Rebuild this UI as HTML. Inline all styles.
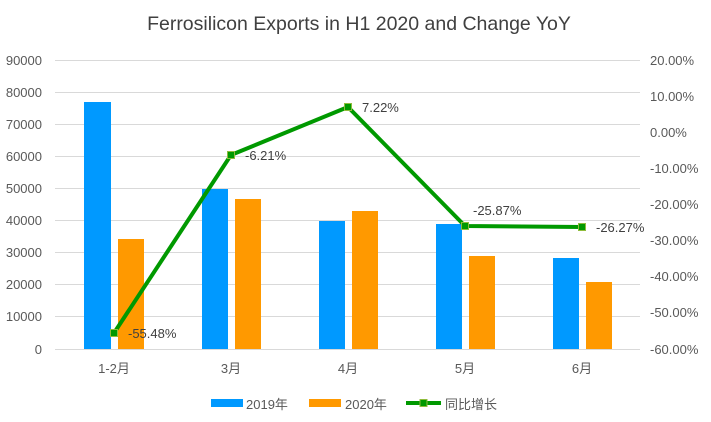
<!DOCTYPE html>
<html><head><meta charset="utf-8"><style>body{margin:0;background:#fff}svg{display:block}text{font-family:"Liberation Sans","Noto Sans CJK SC",sans-serif;fill:#595959}</style></head><body>
<svg width="711" height="422" viewBox="0 0 711 422">
<text x="359" y="30" text-anchor="middle" font-size="19.5" style="fill:#404040">Ferrosilicon Exports in H1 2020 and Change YoY</text>
<g stroke="#d9d9d9" stroke-width="1">
<line x1="55" x2="640" y1="60.5" y2="60.5"/><line x1="55" x2="640" y1="92.5" y2="92.5"/><line x1="55" x2="640" y1="124.5" y2="124.5"/><line x1="55" x2="640" y1="156.5" y2="156.5"/><line x1="55" x2="640" y1="188.5" y2="188.5"/><line x1="55" x2="640" y1="220.5" y2="220.5"/><line x1="55" x2="640" y1="252.5" y2="252.5"/><line x1="55" x2="640" y1="284.5" y2="284.5"/><line x1="55" x2="640" y1="316.5" y2="316.5"/><line x1="55" x2="640" y1="349.5" y2="349.5"/>
</g>
<g font-size="13" text-anchor="end">
<text x="42" y="65">90000</text><text x="42" y="97">80000</text><text x="42" y="129">70000</text><text x="42" y="161">60000</text><text x="42" y="193">50000</text><text x="42" y="225">40000</text><text x="42" y="257">30000</text><text x="42" y="289">20000</text><text x="42" y="321">10000</text><text x="42" y="354">0</text>
</g>
<g font-size="13">
<text x="650" y="65">20.00%</text><text x="650" y="101">10.00%</text><text x="650" y="137">0.00%</text><text x="650" y="173">-10.00%</text><text x="650" y="209">-20.00%</text><text x="650" y="245">-30.00%</text><text x="650" y="281">-40.00%</text><text x="650" y="317">-50.00%</text><text x="650" y="354">-60.00%</text>
</g>
<g fill="#0099ff">
<rect x="84" y="102" width="27" height="247"/><rect x="202" y="189" width="26" height="160"/><rect x="319" y="221" width="26" height="128"/><rect x="436" y="224" width="26" height="125"/><rect x="553" y="258" width="26" height="91"/>
</g>
<g fill="#ff9900">
<rect x="118" y="239" width="26" height="110"/><rect x="235" y="199" width="26" height="150"/><rect x="352" y="211" width="26" height="138"/><rect x="469" y="256" width="26" height="93"/><rect x="586" y="282" width="26" height="67"/>
</g>
<polyline points="114,333 231,155 348,107 465,226 582,227" fill="none" stroke="#009900" stroke-width="4" stroke-linejoin="round"/>
<g fill="#009900" stroke="#8fbc3c" stroke-width="1">
<rect x="110.5" y="329.5" width="7" height="7"/><rect x="227.5" y="151.5" width="7" height="7"/><rect x="344.5" y="103.5" width="7" height="7"/><rect x="461.5" y="222.5" width="7" height="7"/><rect x="578.5" y="223.5" width="7" height="7"/>
</g>
<g font-size="13">
<text x="128" y="338" style="fill:#404040">-55.48%</text><text x="245" y="160" style="fill:#404040">-6.21%</text><text x="362" y="112" style="fill:#404040">7.22%</text><text x="473" y="215" style="fill:#404040">-25.87%</text><text x="596" y="232" style="fill:#404040">-26.27%</text>
</g>
<g font-size="13" text-anchor="middle">
<text x="114" y="373">1-2月</text><text x="231" y="373">3月</text><text x="348" y="373">4月</text><text x="465" y="373">5月</text><text x="582" y="373">6月</text>
</g>
<rect x="211" y="399" width="32" height="8" fill="#0099ff"/>
<text x="246" y="409" font-size="13">2019年</text>
<rect x="309" y="399" width="32" height="8" fill="#ff9900"/>
<text x="345" y="409" font-size="13">2020年</text>
<line x1="406" x2="441" y1="403" y2="403" stroke="#009900" stroke-width="4"/>
<rect x="420" y="399.5" width="7" height="7" fill="#009900" stroke="#8fbc3c"/>
<text x="445" y="409" font-size="13">同比增长</text>
</svg>
</body></html>
